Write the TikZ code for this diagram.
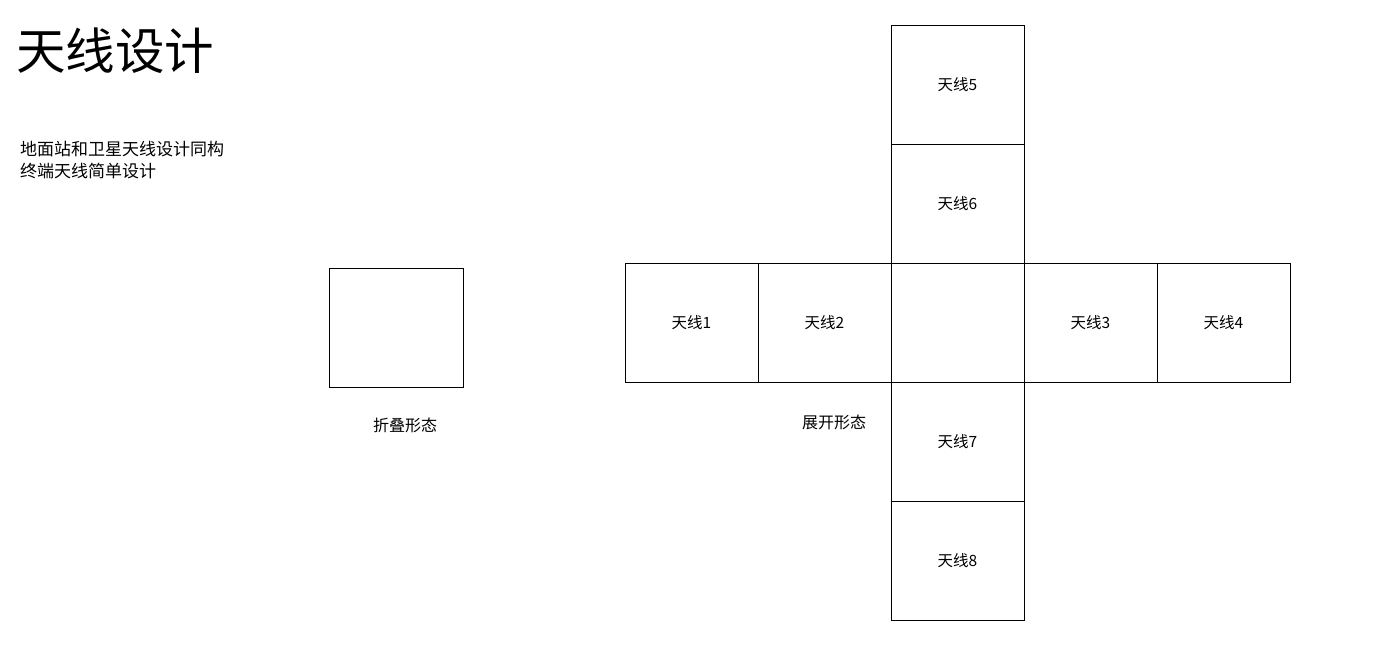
\documentclass[tikz,border=0pt]{standalone}
\usepackage{fontspec}
\setmainfont{Noto Sans CJK SC}
\usetikzlibrary{positioning}

\tikzset{
    cell/.style={draw, line width=0.8pt, minimum width=133pt, minimum height=119pt,
        inner sep=0pt, outer sep=0pt, font=\fontsize{15.5}{18}\selectfont},
    caption/.style={font=\fontsize{16}{19}\selectfont, inner sep=0pt}
}

\begin{document}
\begin{tikzpicture}[x=1pt, y=-1pt]
            {
    \useasboundingbox (0,0) rectangle (1385,646);

    % heading
    \node[anchor=west, inner sep=0pt, font=\fontsize{49.5}{54}\selectfont] (title) at (16,51) {天线设计};
    \node[anchor=north west, align=left, inner sep=0pt, font=\fontsize{17}{22}\selectfont] (intro) at (20,141)
        {地面站和卫星天线设计同构\\终端天线简单设计};

    % folded cube
    \node[cell, minimum width=134pt] (folded) at (396,327.5) {};
    \node[caption] (foldlabel) at (405,425) {折叠形态};

    % unfolded cube
    \node[cell] (middle) at (957.5,322.5) {};
    \node[cell, left=0pt of middle] (ant2) {天线2};
    \node[cell, left=0pt of ant2] (ant1) {天线1};
    \node[cell, right=0pt of middle] (ant3) {天线3};
    \node[cell, right=0pt of ant3] (ant4) {天线4};
    \node[cell, above=0pt of middle] (ant6) {天线6};
    \node[cell, above=0pt of ant6] (ant5) {天线5};
    \node[cell, below=0pt of middle] (ant7) {天线7};
    \node[cell, below=0pt of ant7] (ant8) {天线8};
    \node[caption] (openlabel) at (834,422) {展开形态};
}
\end{tikzpicture}
\end{document}
